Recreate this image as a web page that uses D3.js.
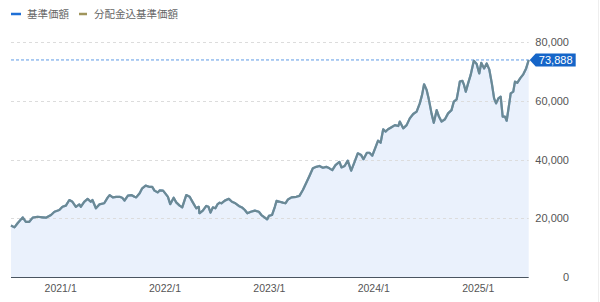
<!DOCTYPE html>
<html><head><meta charset="utf-8">
<script src="https://cdn.jsdelivr.net/npm/d3@7"></script>
<style>
html,body{margin:0;padding:0;background:#fff;}
svg{display:block;font-family:"Liberation Sans",Arial,"Noto Sans CJK JP",sans-serif;}
</style></head>
<body>
<svg id="c" width="600" height="302"></svg>
<script>
const seriesNames = ["基準価額", "分配金込基準価額"];
const dates = [
"2020-07-13","2020-07-25","2020-08-05","2020-08-23","2020-09-03","2020-09-15","2020-09-27","2020-10-14","2020-11-01","2020-11-12",
"2020-11-30","2020-12-12","2020-12-29","2021-01-09","2021-01-21","2021-02-02","2021-02-13","2021-02-25","2021-03-09","2021-03-14",
"2021-03-26","2021-04-07","2021-04-18","2021-04-24","2021-05-06","2021-05-18","2021-06-04","2021-06-16","2021-06-23","2021-07-04",
"2021-07-16","2021-07-28","2021-08-06","2021-08-14","2021-08-26","2021-09-07","2021-09-18","2021-09-24","2021-10-06","2021-10-15",
"2021-10-27","2021-11-08","2021-11-19","2021-11-27","2021-12-09","2021-12-15","2021-12-27","2022-01-05","2022-01-13","2022-01-21",
"2022-02-02","2022-02-11","2022-02-23","2022-03-04","2022-03-18","2022-03-30","2022-04-10","2022-04-22","2022-05-01","2022-05-03",
"2022-05-15","2022-05-27","2022-06-04","2022-06-11","2022-06-19","2022-06-28","2022-07-05","2022-07-13","2022-07-19","2022-07-31",
"2022-08-14","2022-08-25","2022-09-06","2022-09-18","2022-09-29","2022-10-09","2022-10-18","2022-10-30","2022-11-13","2022-11-27",
"2022-12-06","2022-12-18","2022-12-26","2023-01-01","2023-01-12","2023-01-22","2023-01-28","2023-02-08","2023-02-19","2023-02-28",
"2023-03-09","2023-03-21","2023-04-07","2023-04-18","2023-04-30","2023-05-12","2023-05-23","2023-06-04","2023-06-16","2023-06-27",
"2023-07-09","2023-07-21","2023-08-01","2023-08-11","2023-08-22","2023-09-05","2023-09-12","2023-09-23","2023-10-04","2023-10-16",
"2023-10-28","2023-11-08","2023-11-20","2023-11-28","2023-12-10","2023-12-19","2023-12-29","2024-01-10","2024-01-18","2024-01-27",
"2024-02-05","2024-02-13","2024-02-22","2024-03-05","2024-03-17","2024-03-29","2024-04-03","2024-04-15","2024-04-27","2024-05-08",
"2024-05-20","2024-06-01","2024-06-12","2024-06-20","2024-06-27","2024-07-06","2024-07-14","2024-07-23","2024-07-31","2024-08-10",
"2024-08-18","2024-08-27","2024-09-08","2024-09-19","2024-10-01","2024-10-09","2024-10-19","2024-10-24","2024-10-30","2024-11-08",
"2024-11-13","2024-11-20","2024-11-28","2024-12-07","2024-12-18","2024-12-28","2025-01-06","2025-01-13","2025-01-23","2025-02-01",
"2025-02-10","2025-02-19","2025-02-27","2025-03-06","2025-03-14","2025-03-22","2025-03-29","2025-04-06","2025-04-12","2025-04-21",
"2025-04-26","2025-05-05","2025-05-11","2025-05-19","2025-05-29","2025-06-09","2025-06-19","2025-06-28"
];
const navValues = [
17500,16900,18300,20300,18800,18800,20200,20500,20300,20200,
21100,22200,22800,23900,24300,26200,25600,23900,24700,23900,
25600,26600,25600,26200,23400,24700,25100,27000,27900,27100,
27300,27300,27000,26000,27700,27900,27300,27100,28500,30200,
31100,30700,30700,29400,28800,29500,29400,28300,27300,24800,
27000,25400,24300,23700,27900,27300,25400,23400,23900,21700,
22600,24200,23900,21900,23700,23400,24700,25300,25100,26000,
26600,25600,25100,24200,23700,22800,21700,22200,22600,22200,
21100,20200,19600,20800,21100,23900,25900,25600,25300,25100,
26400,27100,27300,27600,29600,32100,34400,37000,37500,37800,
37200,37500,37000,36400,38100,39200,37300,37800,39600,36200,
39200,42100,41500,40100,42300,42300,41300,44400,46400,45700,
50300,49500,50300,51000,51700,51400,52900,50600,51700,54000,
55500,56300,59100,62000,65600,63700,60300,55700,52500,56800,
54600,52900,53700,55700,56800,59700,60500,63100,66500,66800,
65600,63100,65900,68800,73600,72500,69300,72900,71000,72700,
70700,65900,60800,59100,60800,61400,54600,54600,53200,59100,
62500,63100,66500,66100,67600,69000,71000,73888
];
// 分配金込基準価額: no distributions paid, so identical to 基準価額
const navWithDividends = navValues.slice();
const yTicks = [0, 20000, 40000, 60000, 80000];
const xTickYears = [2021, 2022, 2023, 2024, 2025];
const latestLabel = "73,888";

(function () {
const svg = d3.select("#c");
const pL = 11, pR = 528.7, pT = 42, pB = 277;
const parse = d3.timeParse("%Y-%m-%d");
const dd = dates.map(parse);
const x = d3.scaleTime().domain([dd[0], dd[dd.length-1]]).range([pL, pR]);
const y = d3.scaleLinear().domain([0, 80000]).range([pB, pT]);

// legend
const leg = svg.append("g").attr("font-family", "'Noto Sans CJK JP',sans-serif").attr("font-size", 10.5).attr("fill", "#666");
leg.append("line").attr("x1", 11).attr("x2", 21).attr("y1", 14).attr("y2", 14).attr("stroke", "#1f6fd6").attr("stroke-width", 2.5);
leg.append("text").attr("x", 27).attr("y", 14).attr("dy", "0.35em").text(seriesNames[0]);
leg.append("line").attr("x1", 79).attr("x2", 87).attr("y1", 14).attr("y2", 14).attr("stroke", "#a0955c").attr("stroke-width", 2.5);
leg.append("text").attr("x", 94).attr("y", 14).attr("dy", "0.35em").text(seriesNames[1]);

const data = dd.map((d, i) => ({d, v: navValues[i], w: navWithDividends[i]}));
svg.append("path").datum(data)
  .attr("d", d3.area().x(p => x(p.d)).y0(y(0)).y1(p => y(p.v)))
  .attr("fill", "#eaf1fc");

svg.append("g").selectAll("line").data(yTicks.filter(t => t > 0)).join("line")
  .attr("x1", pL).attr("x2", pR).attr("y1", t => Math.round(y(t)) + 0.5).attr("y2", t => Math.round(y(t)) + 0.5)
  .attr("stroke", "#dcdcdc").attr("stroke-dasharray", "3,3");

svg.append("line").attr("x1", pL).attr("x2", pR)
  .attr("y1", y(73888)).attr("y2", y(73888))
  .attr("stroke", "#5d9ae6").attr("stroke-width", 1).attr("stroke-dasharray", "3,2");

svg.append("path").datum(data)
  .attr("d", d3.line().x(p => x(p.d)).y(p => y(p.v)))
  .attr("fill", "none").attr("stroke", "#3a7fc8").attr("stroke-width", 2.2).attr("stroke-linejoin", "round");
svg.append("path").datum(data)
  .attr("d", d3.line().x(p => x(p.d)).y(p => y(p.w)))
  .attr("fill", "none").attr("stroke", "#8c8f72").attr("stroke-width", 2.2).attr("stroke-opacity", 0.6).attr("stroke-linejoin", "round");

svg.append("line").attr("x1", pL).attr("x2", pR).attr("y1", pB + 0.5).attr("y2", pB + 0.5)
  .attr("stroke", "#4a5560").attr("stroke-width", 1);

const xAxis = d3.axisBottom(x).tickValues(xTickYears.map(yr => new Date(yr, 0, 1)))
  .tickFormat(d => d.getFullYear() + "/1").tickSize(0).tickPadding(8);
const gx = svg.append("g").attr("transform", `translate(0,${pB})`).call(xAxis);
gx.select(".domain").remove();
gx.selectAll("text").attr("font-size", 10.5).attr("fill", "#555").attr("font-family", "'Liberation Sans',Arial,sans-serif");

const yAxis = d3.axisRight(y).tickValues(yTicks).tickFormat(d3.format(",")).tickSize(0).tickPadding(0);
const gy = svg.append("g").attr("transform", `translate(569,0)`).call(yAxis);
gy.select(".domain").remove();
gy.selectAll("text").attr("text-anchor", "end").attr("font-size", 11).attr("fill", "#555").attr("font-family", "'Liberation Sans',Arial,sans-serif");

const by = y(73888);
const bx = pR + 1;
svg.append("path")
  .attr("d", `M${bx},${by} L${bx+6},${by-6.5} L${bx+46},${by-6.5} L${bx+46},${by+6.5} L${bx+6},${by+6.5} Z`)
  .attr("fill", "#1565c8");
svg.append("text").attr("x", bx + 26).attr("y", by).attr("dy", "0.36em").attr("text-anchor", "middle")
  .attr("font-size", 11).attr("fill", "#fff").attr("font-family", "'Liberation Sans',Arial,sans-serif").text(latestLabel);

svg.append("line").attr("x1", 598.5).attr("x2", 598.5).attr("y1", 0).attr("y2", 302).attr("stroke", "#eeeeee");
})();
</script>
</body></html>
